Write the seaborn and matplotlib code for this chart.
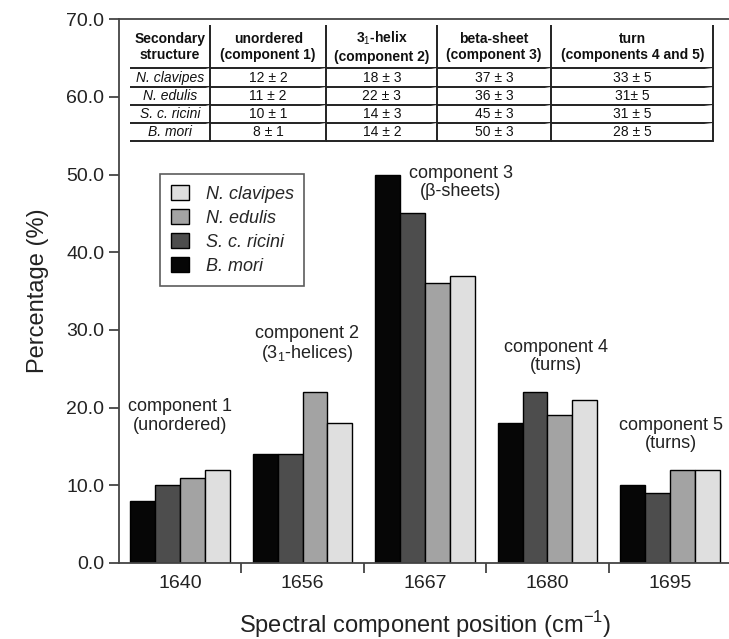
import pandas as pd
import matplotlib
matplotlib.use("Agg")
import matplotlib.pyplot as plt
import seaborn as sns

# Datos
positions = ["1640", "1656", "1667", "1680", "1695"]
species = ["B. mori", "S. c. ricini", "N. edulis", "N. clavipes"]
b_mori = [8, 14, 50, 18, 10]
sc_ricini = [10, 14, 45, 22, 9]
n_edulis = [11, 22, 36, 19, 12]
n_clavipes = [12, 18, 37, 21, 12]

bar_colors = ["#060606", "#4d4d4d", "#a3a3a3", "#dfdfdf"]

component_labels = [
    "component 1\n(unordered)",
    "component 2\n(3$_1$-helices)",
    "component 3\n(\u03b2-sheets)",
    "component 4\n(turns)",
    "component 5\n(turns)",
]
label_x = [0.0, 1.04, 2.29, 3.07, 4.01]
label_y = [18.9, 28.1, 49.0, 26.6, 16.5]

table_header = ["Secondary\nstructure", "unordered\n(component 1)",
                "3$_1$-helix\n(component 2)", "beta-sheet\n(component 3)",
                "turn\n(components 4 and 5)"]
table_species = ["N. clavipes", "N. edulis", "S. c. ricini", "B. mori"]
table_unordered = ["12 \u00b1 2", "11 \u00b1 2", "10 \u00b1 1", "8 \u00b1 1"]
table_helix = ["18 \u00b1 3", "22 \u00b1 3", "14 \u00b1 3", "14 \u00b1 2"]
table_sheet = ["37 \u00b1 3", "36 \u00b1 3", "45 \u00b1 3", "50 \u00b1 3"]
table_turn = ["33 \u00b1 5", "31\u00b1 5", "31 \u00b1 5", "28 \u00b1 5"]


def plot_components():
    sns.set_style("ticks")
    plt.rcParams["font.family"] = ["Liberation Sans", "DejaVu Sans"]
    plt.rcParams["mathtext.fontset"] = "custom"
    plt.rcParams["mathtext.rm"] = "Liberation Sans"
    plt.rcParams["mathtext.bf"] = "Liberation Sans:bold"

    # Tabla larga para seaborn
    values = [b_mori, sc_ricini, n_edulis, n_clavipes]
    rows = []
    for sp, vals in zip(species, values):
        for pos, v in zip(positions, vals):
            rows.append({"position": pos, "species": sp, "pct": v})
    df = pd.DataFrame(rows)

    fig = plt.figure(figsize=(7.29, 6.39), dpi=100)
    ax = fig.add_axes([0.163, 0.119, 0.84, 0.851])

    sns.barplot(data=df, x="position", y="pct", hue="species",
                hue_order=species, order=positions,
                palette=bar_colors, width=0.81, edgecolor="black",
                linewidth=1.0, ax=ax, legend=True)

    ax.set_ylim(0, 70)
    ax.set_xlim(-0.5, 4.5)
    ax.set_yticks(range(0, 71, 10))
    ax.set_yticklabels([f"{v:.1f}" for v in range(0, 71, 10)])
    ax.set_xticks([0.5, 1.5, 2.5, 3.5], minor=True)
    ax.tick_params(axis="x", which="major", length=0, labelsize=14, pad=9,
                   labelcolor="#222222")
    ax.tick_params(axis="x", which="minor", length=7, width=1.3, color="#444444")
    ax.tick_params(axis="y", length=7, width=1.3, color="#444444", labelsize=14,
                   labelcolor="#222222")

    for side in ["left", "bottom", "top"]:
        ax.spines[side].set_color("#444444")
        ax.spines[side].set_linewidth(1.3)
    ax.spines["right"].set_visible(False)

    ax.set_ylabel("Percentage (%)", fontsize=17, color="#222222", labelpad=12)
    ax.set_xlabel("Spectral component position (cm$^{-1}$)", fontsize=17,
                  color="#222222", labelpad=12)

    for txt, x, y in zip(component_labels, label_x, label_y):
        ax.text(x, y, txt, ha="center", va="center", fontsize=13,
                color="#222222", linespacing=1.1)

    # Leyenda en orden inverso
    handles, labels = ax.get_legend_handles_labels()
    ax.legend(handles[::-1], labels[::-1], loc="upper left",
              bbox_to_anchor=(0.068, 0.715), frameon=True, fancybox=False,
              edgecolor="#333333", prop={"style": "italic", "size": 13},
              handlelength=1.0, handleheight=0.9, handletextpad=0.9,
              labelspacing=0.35, borderpad=0.6, borderaxespad=0)
    ax.get_legend().get_frame().set_linewidth(1.2)

    # Tabla interna
    cell_text = [[s, a, b, c, d] for s, a, b, c, d in
                 zip(table_species, table_unordered, table_helix,
                     table_sheet, table_turn)]
    tab = ax.table(cellText=cell_text, colLabels=table_header,
                   colWidths=[0.131, 0.19, 0.181, 0.186, 0.265],
                   cellLoc="center",
                   bbox=[0.018, 0.776, 0.953, 0.213])
    tab.auto_set_font_size(False)
    header_h = 43 / 115
    row_h = 18 / 115
    for (r, c), cell in tab.get_celld().items():
        cell.set_linewidth(1.4)
        cell.set_edgecolor("#222222")
        cell.set_height((header_h if r == 0 else row_h) * 0.213)
        cell.visible_edges = "R" if r == 0 else "BR"
        cell.PAD = 0.02
        t = cell.get_text()
        t.set_color("#111111")
        if r == 0:
            t.set_fontsize(10)
            t.set_fontweight("bold")
        else:
            t.set_fontsize(10)
            if c == 0:
                t.set_fontstyle("italic")
    # linea bajo el encabezado
    for c in range(5):
        tab[0, c].visible_edges = "BR"

    fig.savefig("out.png", dpi=100)
    plt.close(fig)


if __name__ == "__main__":
    plot_components()
